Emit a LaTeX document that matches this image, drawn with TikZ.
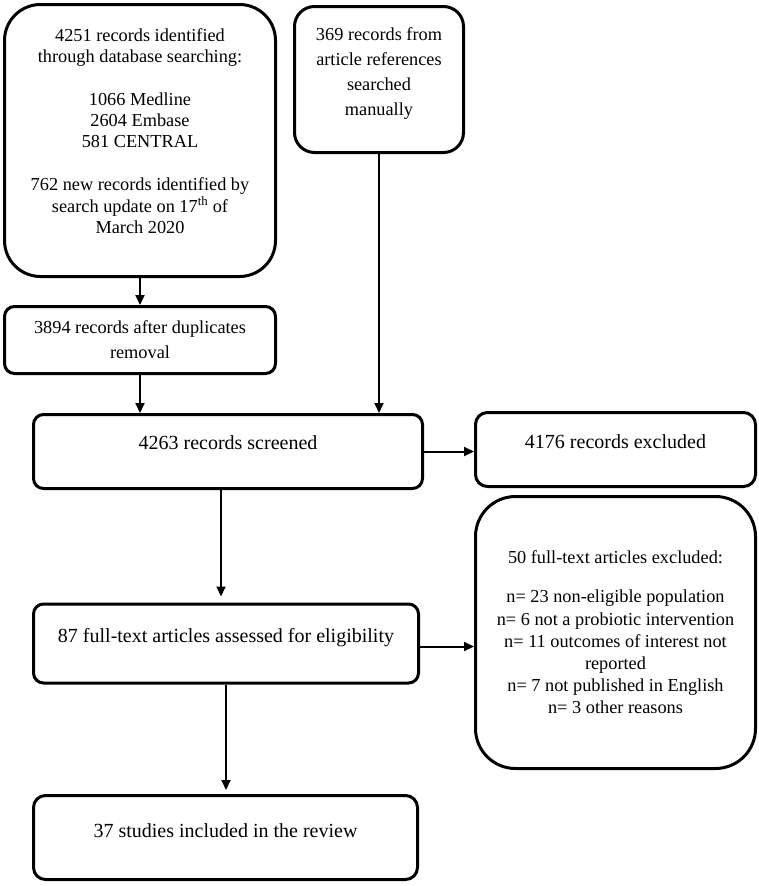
\documentclass[tikz,border=0pt]{standalone}
\usepackage{fontspec}
\setmainfont{Liberation Serif}
\usetikzlibrary{arrows.meta,positioning}

\tikzset{
  box/.style={draw, line width=3pt, align=center, inner sep=0pt},
  smalltxt/.style={font=\fontsize{18.3}{21.5}\selectfont},
  listtxt/.style={font=\fontsize{18.3}{22.2}\selectfont},
  widetxt/.style={font=\fontsize{18.3}{25}\selectfont},
  bigtxt/.style={font=\fontsize{20}{23}\selectfont},
  flow/.style={-{Triangle[length=10pt,width=9pt]}, line width=2pt}
}

\begin{document}
\begin{tikzpicture}[x=1pt,y=-1pt]
  \useasboundingbox (0,0) rectangle (759,886);

  % Ricerca dei record
  \node[box, smalltxt, rounded corners=36pt, minimum width=271pt, text height=36.5pt, text depth=235.5pt] (db) at (140,140.5)
    {\begin{tabular}[t]{@{}c@{}}4251 records identified\\ through database searching:\\[21pt]1066 Medline\\ 2604 Embase\\ 581 CENTRAL\\[21pt]762 new records identified by\\ search update on 17\textsuperscript{th} of\\ March 2020\end{tabular}};
  \node[box, widetxt, rounded corners=20pt, minimum width=169pt, minimum height=146pt] (man) at (379,79.5)
    {369 records from\\ article references\\ searched\\ manually\\[-10pt]~};
  \node[box, widetxt, rounded corners=10pt, minimum width=271pt, minimum height=67pt] (dup) at (140,340)
    {3894 records after duplicates\\ removal};

  % Screening
  \node[box, bigtxt, rounded corners=10pt, minimum width=389pt, text height=35pt, text depth=39pt] (scr) at (228,451.5)
    {4263 records screened};
  \node[box, bigtxt, rounded corners=12pt, minimum width=280pt, text height=36pt, text depth=38pt] (exc) at (615.5,449.5)
    {4176 records excluded};

  % Eleggibilita e inclusione
  \node[box, bigtxt, rounded corners=10pt, minimum width=385pt, text height=38pt, text depth=41pt] (elg) at (226,643.5)
    {87 full-text articles assessed for eligibility};
  \node[box, listtxt, rounded corners=40pt, minimum width=280pt, minimum height=272pt] (ftx) at (615.5,632.5)
    {50 full-text articles excluded:\\[17pt]n= 23 non-eligible population\\ n= 6 not a probiotic intervention\\ n= 11 outcomes of interest not\\ reported\\ n= 7 not published in English\\ n= 3 other reasons};
  \node[box, bigtxt, rounded corners=12pt, minimum width=384pt, text height=42pt, text depth=42pt] (inc) at (225.5,837.5)
    {37 studies included in the review};

  % Frecce
  \draw[flow] (db.south) -- (dup.north);
  \draw[flow] (dup.south) -- (dup.south |- scr.north);
  \draw[flow] (man.south) -- (man.south |- scr.north);
  \draw[flow] (scr.east) -- (scr.east -| exc.west);
  \draw[flow, shorten >=6pt] ([xshift=-7pt]scr.south) -- ([xshift=-7pt]scr.south |- elg.north);
  \draw[flow] ([yshift=-3pt]elg.east) -- ([yshift=-3pt]elg.east -| ftx.west);
  \draw[flow, shorten >=4pt] (elg.south) -- (elg.south |- inc.north);
\end{tikzpicture}
\end{document}
